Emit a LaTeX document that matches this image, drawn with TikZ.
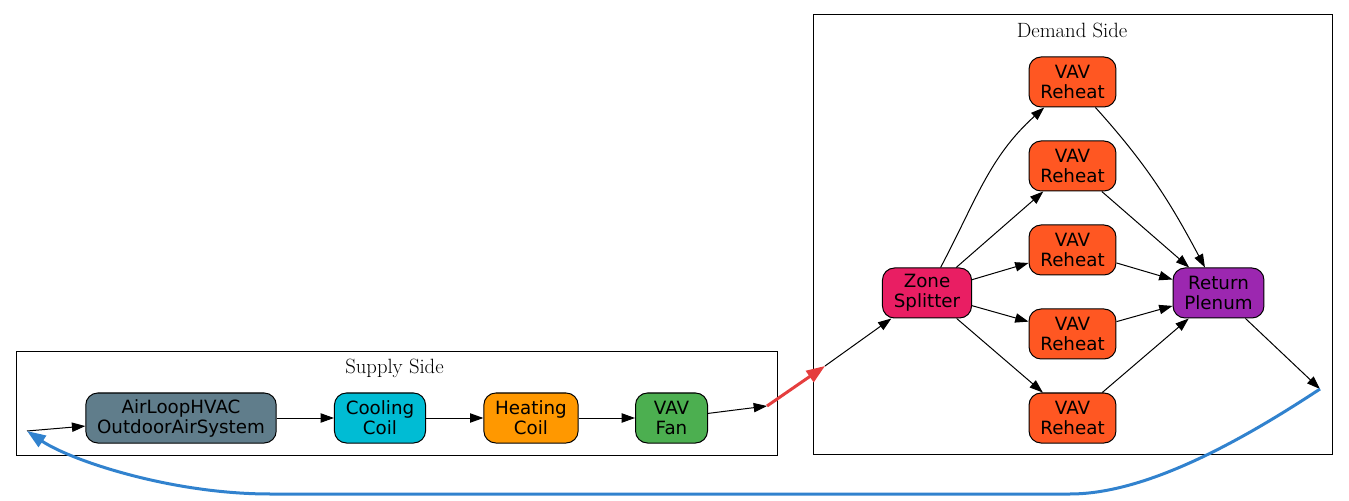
\documentclass[tikz,border=0pt]{standalone}
\usepackage{fontspec}
\newfontfamily\nodefont{DejaVu Sans}
\usepackage{tikz}
\usetikzlibrary{arrows.meta}
\definecolor{oagrey}{HTML}{607D8B}
\definecolor{coolcyan}{HTML}{00BCD4}
\definecolor{heatorange}{HTML}{FF9800}
\definecolor{fangreen}{HTML}{4CAF50}
\definecolor{splitpink}{HTML}{E91E63}
\definecolor{reheatred}{HTML}{FF5722}
\definecolor{plenumpurple}{HTML}{9C27B0}
\definecolor{supplyred}{HTML}{E53E3E}
\definecolor{returnblue}{HTML}{3182CE}

\begin{document}
\begin{tikzpicture}[x=0.75pt,y=0.75pt,->,>={Triangle[length=10pt,width=7pt]},
        line width=0.75pt,
        main node/.style={rectangle,rounded corners=9pt,draw,align=center,
            font=\nodefont\fontsize{13.7}{15}\selectfont,
            minimum width=54pt,minimum height=37.5pt,inner xsep=8.5pt},
        cluster/.style={draw,-},
        cluster label/.style={font=\fontsize{15.5}{18}\selectfont},
        flow/.style={line width=2.25pt,>={Triangle[length=14pt,width=10pt]}}]
    \useasboundingbox (0,0) rectangle (1349,500);

    % clusters
    \draw[cluster] (16,45) rectangle (777,148);
    \node[cluster label] (supply label) at (394.5,132) {Supply Side};
    \draw[cluster] (813,46) rectangle (1332,485);
    \node[cluster label] (demand label) at (1072,470) {Demand Side};

    % supply side
    \node[main node,fill=oagrey] (oa) at (181,82) {AirLoopHVAC\\OutdoorAirSystem};
    \node[main node,fill=coolcyan] (cool) at (380,82) {Cooling\\Coil};
    \node[main node,fill=heatorange] (heat) at (531,82) {Heating\\Coil};
    \node[main node,fill=fangreen] (fan) at (671.5,82) {VAV\\Fan};

    % demand side
    \node[main node,fill=splitpink] (split) at (927,207) {Zone\\Splitter};
    \foreach \i/\y in {1/418,2/334,3/250,4/166,5/82}
        \node[main node,fill=reheatred] (vav\i) at (1072.5,\y) {VAV\\Reheat};
    \node[main node,fill=plenumpurple] (plenum) at (1218.5,207) {Return\\Plenum};

    \coordinate (oa in) at (27,69);
    \coordinate (fan out) at (767,94);
    \coordinate (demand in) at (825,134);
    \coordinate (return out) at (1320,111);

    \draw (oa in) -- (oa);
    \draw (oa) -- (cool);
    \draw (cool) -- (heat);
    \draw (heat) -- (fan);
    \draw (fan) -- (fan out);
    \draw[flow,draw=supplyred] (fan out) -- (demand in);
    \draw (demand in) -- (split);
    \draw (split) to [out=62,in=222] (vav1);
    \foreach \i in {2,...,5}
        \draw (split) -- (vav\i);
    \draw (vav1) to [out=-48,in=118] (plenum);
    \foreach \i in {2,...,5}
        \draw (vav\i) -- (plenum);
    \draw (plenum) -- (return out);
    \draw[flow,draw=returnblue] (return out) .. controls (1250,65) and (1150,6) .. (1070,6)
        -- (270,6) .. controls (170,6) and (70,40) .. (oa in);
\end{tikzpicture}
\end{document}
